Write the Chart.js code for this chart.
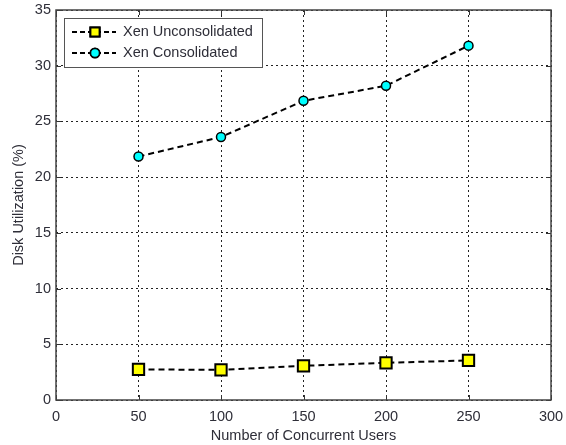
<!DOCTYPE html>
<html>
<head>
<meta charset="utf-8">
<script src="https://cdn.jsdelivr.net/npm/chart.js@4.4.0/dist/chart.umd.min.js"></script>
<style>
  html, body { margin: 0; padding: 0; background: #fff; }
  #wrap { width: 566px; height: 445px; }
</style>
</head>
<body>
<div id="wrap"><canvas id="c" width="566" height="445"></canvas></div>
<script>
// concurrent users on the x axis
const users = [50, 100, 150, 200, 250];
// disk utilization (%) per configuration
const unconsolidated = [2.75, 2.7, 3.07, 3.34, 3.55];
const consolidated = [21.85, 23.6, 26.85, 28.2, 31.8];
const seriesNames = ['Xen Unconsolidated', 'Xen Consolidated'];
const xTicks = [0, 50, 100, 150, 200, 250, 300];
const yTicks = [0, 5, 10, 15, 20, 25, 30, 35];

const textColor = '#2e2e38';
const font = { family: 'Arial, "Liberation Sans", sans-serif', size: 14.5 };

const toPoints = (ys) => users.map((u, i) => ({ x: u, y: ys[i] }));

// box around the plot with inward ticks on all four sides, matlab style
const frame = {
  id: 'frame',
  beforeDatasetsDraw(chart) {
    const { ctx, chartArea: a, scales } = chart;
    ctx.save();
    ctx.strokeStyle = '#333';
    ctx.lineWidth = 1;
    ctx.setLineDash([]);
    ctx.beginPath();
    xTicks.forEach(v => {
      const px = Math.round(scales.x.getPixelForValue(v)) + 0.5;
      ctx.moveTo(px, a.bottom); ctx.lineTo(px, a.bottom - 5);
      ctx.moveTo(px, a.top); ctx.lineTo(px, a.top + 5);
    });
    yTicks.forEach(v => {
      const py = Math.round(scales.y.getPixelForValue(v)) + 0.5;
      ctx.moveTo(a.left, py); ctx.lineTo(a.left + 5, py);
      ctx.moveTo(a.right, py); ctx.lineTo(a.right - 5, py);
    });
    ctx.stroke();
    ctx.lineWidth = 1.5;
    ctx.strokeStyle = '#444';
    ctx.strokeRect(a.left, a.top, a.right - a.left, a.bottom - a.top);
    ctx.restore();
  },
  afterDraw(chart) {
    // legend: dashed line sample with the marker in its middle
    const { ctx, chartArea: a } = chart;
    const bx = a.left + 8, by = a.top + 8, bw = 198, bh = 49;
    ctx.save();
    ctx.fillStyle = '#fff';
    ctx.fillRect(bx, by, bw, bh);
    ctx.strokeStyle = '#555';
    ctx.lineWidth = 1;
    ctx.strokeRect(bx + 0.5, by + 0.5, bw, bh);
    chart.data.datasets.forEach((ds, i) => {
      const cy = by + 14 + i * 21;
      ctx.strokeStyle = '#000';
      ctx.lineWidth = 2;
      ctx.setLineDash([5, 3]);
      ctx.beginPath();
      ctx.moveTo(bx + 8, cy); ctx.lineTo(bx + 52, cy);
      ctx.stroke();
      ctx.setLineDash([]);
      Chart.helpers.drawPoint(ctx, {
        pointStyle: ds.pointStyle,
        radius: ds.pointStyle === 'rect' ? 6.5 : ds.pointRadius,
        borderWidth: ds.pointBorderWidth
      }, bx + 31, cy);
      ctx.fillStyle = ds.pointBackgroundColor;
      ctx.strokeStyle = ds.pointBorderColor;
      ctx.lineWidth = ds.pointBorderWidth;
      ctx.fill();
      ctx.stroke();
      ctx.fillStyle = textColor;
      ctx.font = '14.5px Arial, "Liberation Sans", sans-serif';
      ctx.textBaseline = 'middle';
      ctx.fillText(ds.label, bx + 59, cy);
    });
    ctx.restore();
  }
};

new Chart(document.getElementById('c'), {
  type: 'line',
  data: {
    datasets: [
      {
        label: seriesNames[0],
        data: toPoints(unconsolidated),
        borderColor: '#000',
        borderWidth: 2,
        borderDash: [6, 4],
        pointStyle: 'rect',
        pointRadius: 8,
        pointBackgroundColor: '#ffff00',
        pointBorderColor: '#000',
        pointBorderWidth: 2,
        tension: 0
      },
      {
        label: seriesNames[1],
        data: toPoints(consolidated),
        borderColor: '#000',
        borderWidth: 2,
        borderDash: [6, 4],
        pointStyle: 'circle',
        pointRadius: 4.5,
        pointBackgroundColor: '#00ffff',
        pointBorderColor: '#000',
        pointBorderWidth: 1.5,
        tension: 0
      }
    ]
  },
  options: {
    responsive: false,
    animation: false,
    events: [],
    layout: { padding: { top: 9, right: 15, left: 0, bottom: 0 } },
    plugins: {
      legend: { display: false },
      tooltip: { enabled: false }
    },
    scales: {
      x: {
        type: 'linear',
        min: 0,
        max: 300,
        afterBuildTicks: (s) => { s.ticks = xTicks.map(v => ({ value: v })); },
        afterFit: (s) => { s.height = 45; s.paddingLeft = 0; s.paddingRight = 0; },
        grid: { color: '#222', lineWidth: 1, drawTicks: false },
        border: { display: false, dash: [2, 3] },
        ticks: { color: textColor, font, padding: 8, maxRotation: 0 },
        title: {
          display: true,
          text: 'Number of Concurrent Users',
          color: textColor,
          font,
          padding: { top: 0, bottom: 0 }
        }
      },
      y: {
        min: 0,
        max: 35,
        afterBuildTicks: (s) => { s.ticks = yTicks.map(v => ({ value: v })); },
        afterFit: (s) => { s.width = 56; s.paddingTop = 0; s.paddingBottom = 0; },
        grid: { color: '#222', lineWidth: 1, drawTicks: false },
        border: { display: false, dash: [2, 3] },
        ticks: { color: textColor, font, padding: 5 },
        title: {
          display: true,
          text: 'Disk Utilization (%)',
          color: textColor,
          font,
          padding: { top: 10, bottom: 0 }
        }
      }
    }
  },
  plugins: [frame]
});
</script>
</body>
</html>
